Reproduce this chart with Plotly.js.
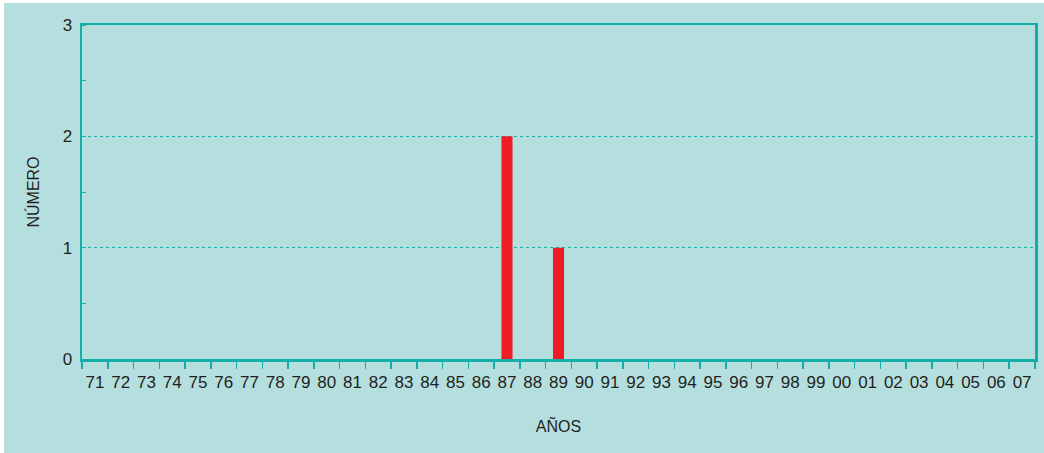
<!DOCTYPE html>
<html>
<head>
<meta charset="utf-8">
<script src="https://cdn.plot.ly/plotly-3.0.1.min.js"></script>
<style>
html,body{margin:0;padding:0;background:#ffffff;}
#chart{position:absolute;left:4px;top:3px;width:1040px;height:450px;}
</style>
</head>
<body>
<div id="chart"></div>
<script>
const years = ['71','72','73','74','75','76','77','78','79','80','81','82','83','84','85','86','87','88','89','90','91','92','93','94','95','96','97','98','99','00','01','02','03','04','05','06','07'];
const counts = [0,0,0,0,0,0,0,0,0,0,0,0,0,0,0,0,2,0,1,0,0,0,0,0,0,0,0,0,0,0,0,0,0,0,0,0,0];
const yTicks = [0,1,2,3];

const teal = '#13aea6';
const bg = '#b5dfdf';
const txt = '#231f20';
const fam = '"Liberation Sans", Arial, sans-serif';

const trace = {
  type: 'bar',
  x: years,
  y: counts,
  marker: {color: '#ee1c24', line: {width: 0}},
  hoverinfo: 'skip'
};

const layout = {
  width: 1040, height: 450,
  margin: {l: 78, r: 9, t: 22, b: 94, pad: 0},
  paper_bgcolor: bg,
  plot_bgcolor: bg,
  bargap: 0.57,
  showlegend: false,
  font: {family: fam, size: 17, color: txt},
  xaxis: {
    type: 'category',
    tickson: 'boundaries',
    ticks: 'outside',
    ticklen: 7,
    tickwidth: 1.5,
    tickcolor: teal,
    tickangle: 0,
    showline: true,
    linecolor: teal,
    linewidth: 2.5,
    mirror: true,
    showgrid: false,
    ticklabelstandoff: 6,
    tickfont: {family: fam, size: 17, color: txt},
    title: {text: 'AÑOS', font: {family: fam, size: 16, color: txt}, standoff: 30},
    fixedrange: true
  },
  yaxis: {
    range: [0, 3],
    tickvals: yTicks,
    ticktext: yTicks.map(String),
    ticks: '',
    showline: true,
    linecolor: teal,
    linewidth: 2.5,
    mirror: true,
    showgrid: true,
    gridcolor: teal,
    gridwidth: 1.5,
    griddash: 'dot',
    zeroline: false,
    ticklabelstandoff: 4,
    tickfont: {family: fam, size: 17, color: txt},
    minor: {dtick: 0.5, tick0: 0, ticks: 'inside', ticklen: 4, tickwidth: 1, tickcolor: teal, showgrid: false},
    title: {text: 'NÚMERO', font: {family: fam, size: 16, color: txt}, standoff: 19},
    fixedrange: true
  }
};

Plotly.newPlot('chart', [trace], layout, {displayModeBar: false, staticPlot: true});
</script>
</body>
</html>
